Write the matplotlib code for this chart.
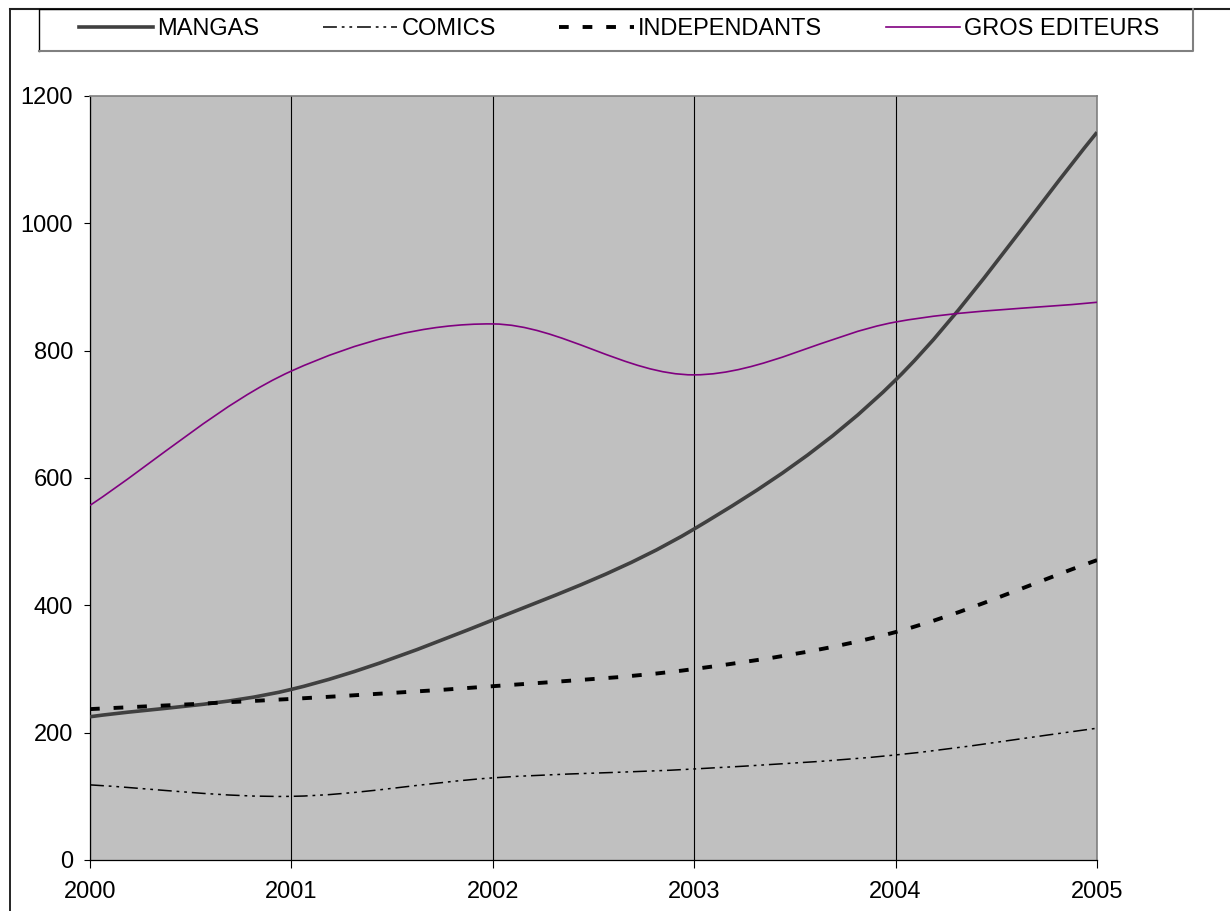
import numpy as np
import matplotlib
matplotlib.use("Agg")
import matplotlib.pyplot as plt
from matplotlib.path import Path
from matplotlib.patches import PathPatch
from matplotlib.lines import Line2D

plt.rcParams['font.family'] = ['Liberation Sans', 'DejaVu Sans']
plt.rcParams['lines.scale_dashes'] = False

years = [2000, 2001, 2002, 2003, 2004, 2005]
mangas = [225, 268, 377, 520, 754, 1143]
comics = [118, 100, 129, 143, 165, 207]
independants = [237, 253, 273, 300, 358, 471]
gros_editeurs = [557, 768, 842, 762, 845, 876]
yticks = [0, 200, 400, 600, 800, 1000, 1200]

series = [
    ("MANGAS", mangas, dict(color='#404040', lw=2.6, ls='-')),
    ("COMICS", comics, dict(color='black', lw=1.1, ls=(0, (10, 3.5, 2, 3.5, 2, 3.5)))),
    ("INDEPENDANTS", independants, dict(color='black', lw=2.8, ls=(0, (7, 10)))),
    ("GROS EDITEURS", gros_editeurs, dict(color='#800080', lw=1.2, ls='-')),
]


def smooth_path(x, y):
    x = np.asarray(x, float)
    y = np.asarray(y, float)
    xe = np.concatenate([[2 * x[0] - x[1]], x, [2 * x[-1] - x[-2]]])
    ye = np.concatenate([[2 * y[0] - y[1]], y, [2 * y[-1] - y[-2]]])
    verts = [(x[0], y[0])]
    codes = [Path.MOVETO]
    for i in range(len(x) - 1):
        j = i + 1
        c1 = (xe[j] + (xe[j + 1] - xe[j - 1]) / 6, ye[j] + (ye[j + 1] - ye[j - 1]) / 6)
        c2 = (xe[j + 1] - (xe[j + 2] - xe[j]) / 6, ye[j + 1] - (ye[j + 2] - ye[j]) / 6)
        verts += [c1, c2, (x[i + 1], y[i + 1])]
        codes += [Path.CURVE4] * 3
    return Path(verts, codes)


W, H = 1230, 911
fig = plt.figure(figsize=(W / 100, H / 100), dpi=100)
ax = fig.add_axes([90 / W, 51 / H, 1007 / W, 764 / H])
ax.set_facecolor('#C0C0C0')

handles = []
for name, vals, st in series:
    patch = PathPatch(smooth_path(years, vals), fill=False, edgecolor=st['color'],
                      lw=st['lw'], linestyle=st['ls'], capstyle='butt', joinstyle='round', zorder=3)
    ax.add_patch(patch)
    handles.append(Line2D([0], [0], color=st['color'], lw=st['lw'], ls=st['ls'],
                          dash_capstyle='butt', label=name))

ax.set_xlim(years[0], years[-1])
ax.set_ylim(yticks[0], yticks[-1])
ax.set_xticks(years)
ax.set_xticklabels([str(y) for y in years])
ax.set_yticks(yticks)
ax.set_yticklabels([str(v) for v in yticks])
ax.set_axisbelow(True)
ax.xaxis.grid(True, color='black', lw=0.8)
ax.yaxis.grid(False)
for s in ['left', 'bottom']:
    ax.spines[s].set_color('black')
    ax.spines[s].set_linewidth(0.9)
for s in ['top', 'right']:
    ax.spines[s].set_color('#808080')
    ax.spines[s].set_linewidth(1.2)
ax.tick_params(axis='y', direction='out', length=4.3, width=0.8, pad=8, labelsize=17)
ax.tick_params(axis='x', direction='out', length=5.8, width=0.8, pad=9, labelsize=17)

# outer chart border
fig.add_artist(Line2D([10 / W, 10 / W], [0, 1 - 9 / H], transform=fig.transFigure, color='black', lw=1.2))
fig.add_artist(Line2D([10 / W, 1], [1 - 9 / H, 1 - 9 / H], transform=fig.transFigure, color='#202020', lw=1.5))

# legend box
lx0, lx1, ly0, ly1 = 39 / W, 1193 / W, 1 - 51 / H, 1 - 9 / H
fig.add_artist(Line2D([lx0, lx0, lx1], [ly0, ly1, ly1], transform=fig.transFigure, color='black', lw=1.0))
fig.add_artist(Line2D([lx0, lx1, lx1], [ly0, ly0, ly1], transform=fig.transFigure, color='#808080', lw=1.5))

fig.legend(handles=handles, loc='center', bbox_to_anchor=(619 / W, 1 - 29 / H), ncol=4,
           frameon=False, fontsize=17, handlelength=3.15, handletextpad=0.17,
           columnspacing=2.7, borderpad=0, borderaxespad=0)

fig.savefig('out.png', dpi=100)
